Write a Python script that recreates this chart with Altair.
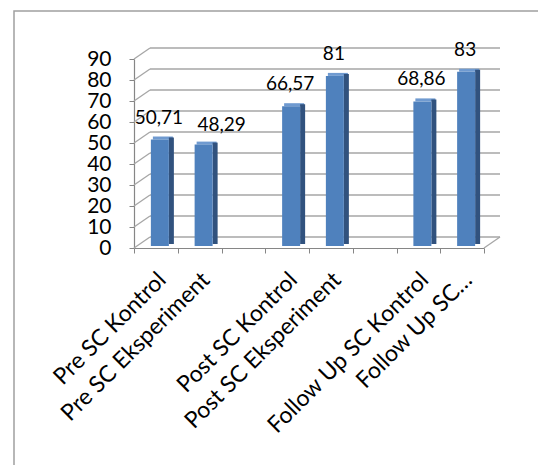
import altair as alt
import pandas as pd

categories = ["Pre SC Kontrol", "Pre SC Eksperiment", " ",
              "Post SC Kontrol", "Post SC Eksperiment", "  ",
              "Follow Up SC Kontrol", "Follow Up SC…"]
bar_categories = ["Pre SC Kontrol", "Pre SC Eksperiment",
                  "Post SC Kontrol", "Post SC Eksperiment",
                  "Follow Up SC Kontrol", "Follow Up SC…"]
values = [50.71, 48.29, 66.57, 81, 68.86, 83]
value_labels = ["50,71", "48,29", "66,57", "81", "68,86", "83"]
y_ticks = [0, 10, 20, 30, 40, 50, 60, 70, 80, 90]

W, H = 350, 189
DX, DY = 16, -11
FONT = "Lato"

bars = pd.DataFrame({"cat": bar_categories, "val": values, "lbl": value_labels})
grid = pd.DataFrame({"v": y_ticks})
floor = pd.DataFrame({"v": [0]})

xs = alt.Scale(domain=categories, paddingInner=0, paddingOuter=0)
ys = alt.Scale(domain=[0, 90], nice=False)

x_enc = alt.X("cat:N", scale=xs, sort=categories,
              axis=alt.Axis(title=None, labelAngle=-45, labelAlign="right",
                            labelBaseline="middle", labelFont=FONT, labelFontSize=23,
                            labelColor="black", labelPadding=23, labelOffset=6,
                            tickBand="extent", tickSize=5, tickColor="#868686",
                            domainColor="#868686", domainWidth=1.2, labelLimit=400,
                            labelOverlap=False))

y_axis = alt.Axis(title=None, values=y_ticks, labelFont=FONT, labelFontSize=21,
                  labelColor="black", tickSize=5, tickColor="#868686",
                  domainColor="#868686", domainWidth=1.2, labelPadding=18,
                  grid=False, labelOverlap=False, tickCount=10)


def y_of(field):
    return alt.Y(field, type="quantitative", scale=ys, axis=y_axis)


frame = alt.Chart(floor).mark_rect(fillOpacity=0, stroke="#A0A0A0", strokeWidth=1.5).encode(
    x=alt.value(-120), y=alt.value(-48), x2=alt.value(700), y2=alt.value(700))

back_grid = alt.Chart(grid).mark_rule(color="#A6A6A6", strokeWidth=1.3, yOffset=DY).encode(
    y=y_of("v"), x=alt.value(DX), x2=alt.value(W + DX))

side_grid = alt.Chart(grid).mark_rule(color="#A6A6A6", strokeWidth=1.3, y2Offset=DY).encode(
    y=y_of("v"), y2="v:Q", x=alt.value(0), x2=alt.value(DX))

floor_edge = alt.Chart(floor).mark_rule(color="#A6A6A6", strokeWidth=1.3, y2Offset=DY).encode(
    y=y_of("v"), y2="v:Q", x=alt.value(W), x2=alt.value(W + DX))

base = alt.Chart(bars)

top_face = base.mark_bar(color="#6F9AD0", size=20, xOffset=7, yOffset=-5, y2Offset=-2).encode(
    x=x_enc, y=y_of("val"), y2="val:Q")

side_face = base.mark_bar(color="#31527E", size=5, xOffset=15.5, yOffset=-4, y2Offset=-4).encode(
    x=x_enc, y=y_of("val"))

front_face = base.mark_bar(color="#4F81BD", size=18, xOffset=4, yOffset=-2, y2Offset=-2).encode(
    x=x_enc, y=y_of("val"))

labels = base.transform_filter(alt.datum.lbl != "48,29").mark_text(
    font=FONT, fontSize=19, color="black", dx=3, dy=-24, baseline="middle").encode(
    x=x_enc, y=y_of("val"), text="lbl:N")

labels_shifted = base.transform_filter(alt.datum.lbl == "48,29").mark_text(
    font=FONT, fontSize=19, color="black", dx=22, dy=-22, baseline="middle").encode(
    x=x_enc, y=y_of("val"), text="lbl:N")

chart = alt.layer(frame, back_grid, side_grid, floor_edge, top_face, side_face,
                  front_face, labels, labels_shifted).properties(
    width=W, height=H,
    autosize=alt.AutoSizeParams(type="none"),
    padding={"left": 134, "top": 59, "right": 54, "bottom": 217},
).configure_view(stroke=None)

chart.save("out.html", embed_options={"renderer": "svg", "actions": False})
